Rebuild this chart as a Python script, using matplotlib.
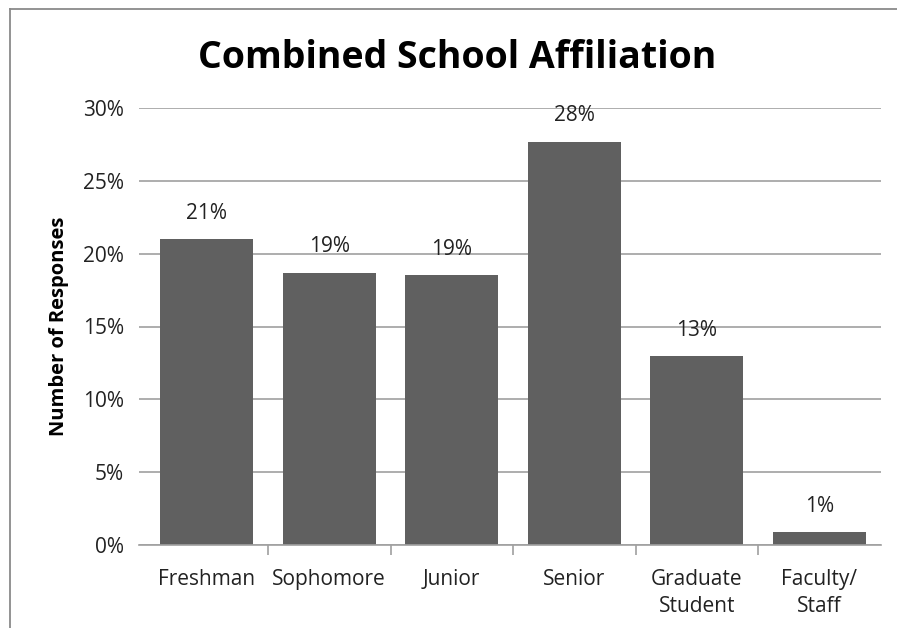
import matplotlib
matplotlib.use("Agg")
import matplotlib.pyplot as plt
from matplotlib.lines import Line2D

categories = ["Freshman", "Sophomore", "Junior", "Senior", "Graduate\nStudent", "Faculty/\nStaff"]
values = [21.0, 18.7, 18.55, 27.7, 12.95, 0.9]
labels = ["21%", "19%", "19%", "28%", "13%", "1%"]
yticks = [0, 5, 10, 15, 20, 25, 30]

plt.rcParams['font.family'] = ['Open Sans', 'DejaVu Sans']

W, H = 897, 628
fig = plt.figure(figsize=(W/100, H/100), dpi=100)
ax = fig.add_axes([139/W, 1-545/H, (880.5-139)/W, (545-108)/H])

n = len(categories)
cat_px = (880.5 - 145.5) / n
x = list(range(n))
ax.bar(x, values, width=0.76, color="#606060", zorder=3)
ax.set_xlim(-0.5 - 6.5 / cat_px, n - 0.5)
ax.set_ylim(0, 30)
ax.set_yticks(yticks)
ax.set_yticklabels([f"{t}%" for t in yticks], fontsize=15, color="#222222")
ax.tick_params(axis='y', length=0, pad=11)
ax.grid(axis='y', color="#a0a0a0", linewidth=1.2, zorder=0)
for s in ["left", "right", "top"]:
    ax.spines[s].set_visible(False)
ax.spines["bottom"].set_color("#a0a0a0")
ax.spines["bottom"].set_linewidth(1.2)
ax.spines["bottom"].set_zorder(4)

ax.set_xticks(x)
ax.set_xticklabels(categories, fontsize=15, color="#222222", linespacing=1.4)
ax.tick_params(axis='x', length=0, pad=17)
ax.set_xticks([i + 0.5 for i in range(n - 1)], minor=True)
ax.tick_params(axis='x', which='minor', length=7, color="#a0a0a0", width=1.2)

for xi, v, lab in zip(x, values, labels):
    ax.annotate(lab, (xi, v), xytext=(0, 11), textcoords="offset points",
                ha="center", va="bottom", fontsize=15, color="#222222")

ax.set_ylabel("Number of Responses", fontsize=14.5, fontweight="bold", labelpad=10)
fig.text(457/W, 1-58/H, "Combined School Affiliation", ha="center", va="center",
         fontsize=27, fontweight="bold", color="black")

# outer frame (top and left edges visible)
fig.add_artist(Line2D([9.5/W, 9.5/W], [0, 1-8.5/H], transform=fig.transFigure, color="#8a8a8a", linewidth=1.3))
fig.add_artist(Line2D([9.5/W, 1], [1-8.5/H, 1-8.5/H], transform=fig.transFigure, color="#8a8a8a", linewidth=1.3))

fig.savefig("out.png", dpi=100)
